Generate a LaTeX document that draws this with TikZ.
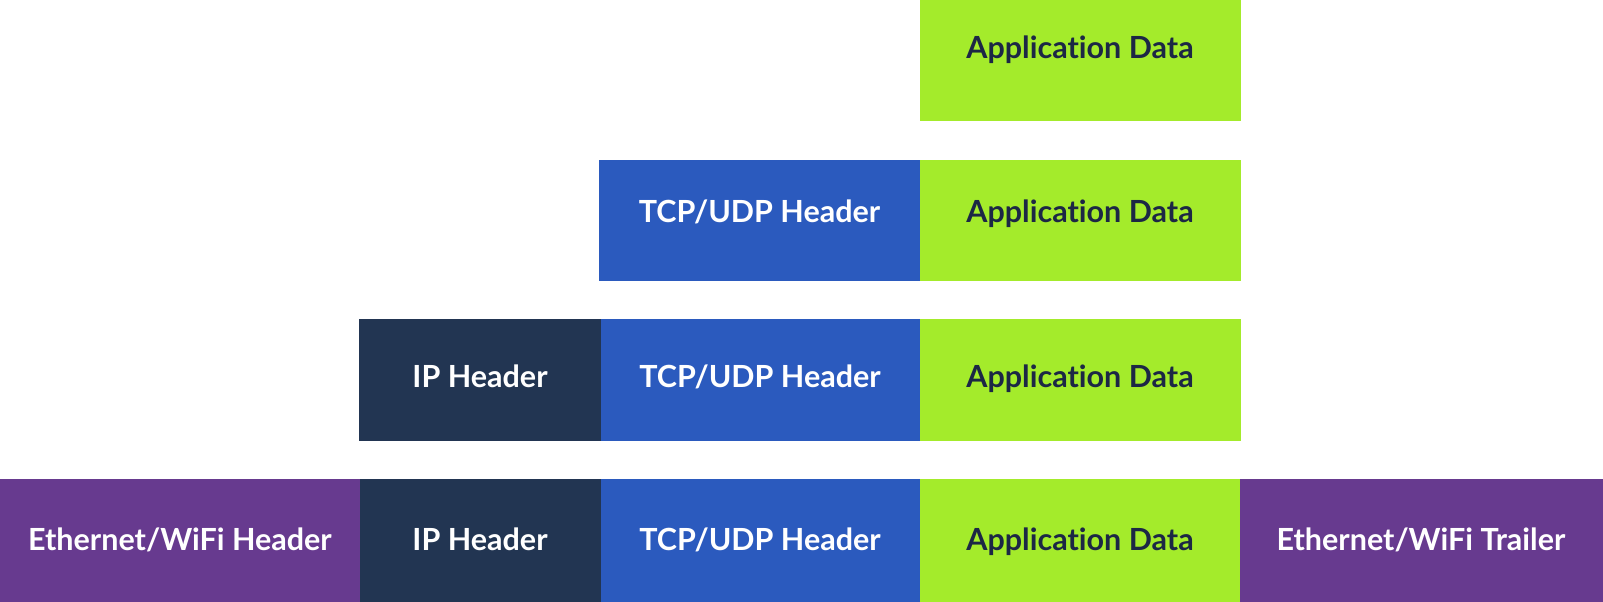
\documentclass[tikz,border=0pt]{standalone}
\usepackage{fontspec}
\setmainfont{Lato}[Ligatures={NoCommon}]
\definecolor{appgreen}{HTML}{A4EB2B}
\definecolor{tcpblue}{HTML}{2B5ABE}
\definecolor{ipnavy}{HTML}{223552}
\definecolor{ethpurple}{HTML}{673A8F}
\definecolor{darktext}{HTML}{1C2745}
\begin{document}
\begin{tikzpicture}[x=1pt,y=-1pt,
  blk/.style={rectangle,draw=none,inner sep=0pt,outer sep=0pt,anchor=north west},
  lbl/.style={anchor=base,inner sep=0pt,font=\fontsize{30.5}{32}\selectfont\bfseries},
  app/.style={blk,fill=appgreen},
  tcp/.style={blk,fill=tcpblue},
  ip/.style={blk,fill=ipnavy},
  eth/.style={blk,fill=ethpurple}]
\useasboundingbox (0,0) rectangle (1603,602);
\def\rh{121.5}
% row 1
\node[app,minimum width=321pt,minimum height=125pt] (a1) at (919.5,-4) {};
\node[lbl,text=darktext] (ta1) at (1080,58.3) {Application Data};
% row 2
\node[tcp,minimum width=320.5pt,minimum height=\rh pt] (t2) at (599,159.5) {};
\node[app,minimum width=321pt,minimum height=\rh pt] (a2) at (919.5,159.5) {};
\node[lbl,text=white] (tt2) at (759.5,222.7) {TCP/UDP Header};
\node[lbl,text=darktext] (ta2) at (1080,222.7) {Application Data};
% row 3
\node[ip,minimum width=242pt,minimum height=122pt] (i3) at (359,319) {};
\node[tcp,minimum width=318.5pt,minimum height=122pt] (t3) at (601,319) {};
\node[app,minimum width=321pt,minimum height=122pt] (a3) at (919.5,319) {};
\node[lbl,text=white] (ti3) at (480,387.3) {IP Header};
\node[lbl,text=white] (tt3) at (760,387.3) {TCP/UDP Header};
\node[lbl,text=darktext] (ta3) at (1080,387.3) {Application Data};
% row 4
\node[eth,minimum width=360pt,minimum height=123pt] (e4) at (0,479) {};
\node[ip,minimum width=241pt,minimum height=123pt] (i4) at (360,479) {};
\node[tcp,minimum width=318.5pt,minimum height=123pt] (t4) at (601,479) {};
\node[app,minimum width=320.5pt,minimum height=123pt] (a4) at (919.5,479) {};
\node[eth,minimum width=363pt,minimum height=123pt] (r4) at (1240,479) {};
\node[lbl,text=white] (te4) at (180,550.3) {Ethernet/WiFi Header};
\node[lbl,text=white] (ti4) at (480,550.3) {IP Header};
\node[lbl,text=white] (tt4) at (760,550.3) {TCP/UDP Header};
\node[lbl,text=darktext] (ta4) at (1080,550.3) {Application Data};
\node[lbl,text=white] (tr4) at (1421,550.3) {Ethernet/WiFi Trailer};
\end{tikzpicture}
\end{document}
